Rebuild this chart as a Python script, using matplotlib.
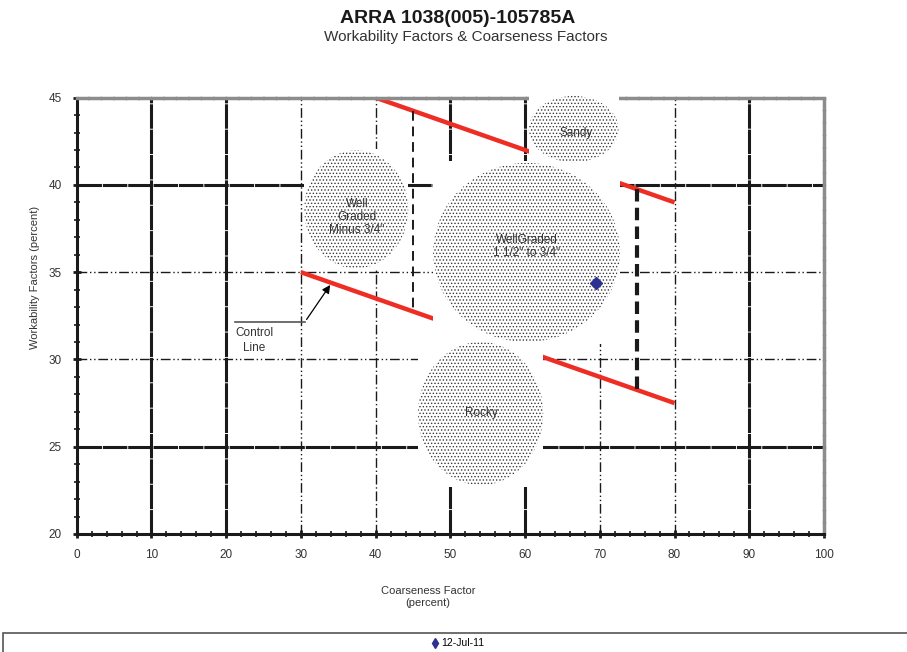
import matplotlib
matplotlib.use("Agg")
import matplotlib.pyplot as plt
from matplotlib.patches import Ellipse, Rectangle
from matplotlib.lines import Line2D

plt.rcParams['font.family'] = ['Liberation Sans', 'DejaVu Sans']
plt.rcParams['hatch.linewidth'] = 0.6

# --- data ---
zone_names = ['Sandy', 'Well\nGraded\nMinus 3/4"', 'WellGraded\n1 1/2" to 3/4"', 'Rocky']
zone_cx = [66.5, 37.4, 60.2, 54.05]
zone_cy = [43.2, 38.6, 36.13, 26.9]
zone_rx = [6.0, 6.96, 12.5, 8.37]
zone_ry = [1.9, 3.38, 5.13, 4.1]
zone_label_x = [66.8, 37.5, 60.2, 54.2]
zone_label_y = [43.0, 38.16, 36.47, 26.96]

# control lines (x, y end points)
upper_ctrl_x = [40, 80]
upper_ctrl_y = [45, 39]
lower_ctrl_x = [30, 80]
lower_ctrl_y = [35, 27.5]

# vertical dashed limits between control lines
limit_x = [45, 75]
limit_top = [44.25, 39.75]
limit_bottom = [32.75, 28.25]

sample_dates = ['12-Jul-11']
sample_cf = [69.5]
sample_wf = [34.4]

vgrid_x = [10, 20, 30, 40, 50, 60, 70, 80, 90]
vgrid_kind = ['heavy', 'heavy', 'dd', 'd', 'heavy', 'heavy', 'dd', 'dd', 'heavy']
hgrid_y = [25, 30, 35, 40]
hgrid_kind = ['heavy', 'dd', 'dd', 'heavy']

grid_styles = {
    'heavy': dict(color='#1a1a1a', lw=2.2, ls=(0, (8, 0.3))),
    'dd': dict(color='#1a1a1a', lw=1.0, ls=(0, (7, 2, 1, 2, 1, 2))),
    'd': dict(color='#1a1a1a', lw=1.0, ls=(0, (7, 2, 1, 2))),
}

fig = plt.figure(figsize=(9.07, 6.52), dpi=100)
ax = fig.add_axes([0.0846, 0.181, 0.8239, 0.6692])
ax.set_xlim(0, 100)
ax.set_ylim(20, 45)

# grid
for x, k in zip(vgrid_x, vgrid_kind):
    ax.axvline(x, zorder=1, **grid_styles[k])
for y, k in zip(hgrid_y, hgrid_kind):
    ax.axhline(y, zorder=1, **grid_styles[k])

# control lines and limits
red = '#EE2E24'
ax.plot(upper_ctrl_x, upper_ctrl_y, color=red, lw=3.2, zorder=1.6, solid_capstyle='butt')
ax.plot(lower_ctrl_x, lower_ctrl_y, color=red, lw=3.2, zorder=1.6, solid_capstyle='butt')
ax.plot([limit_x[0]] * 2, [limit_top[0], limit_bottom[0]], color='#1a1a1a', lw=1.4,
        ls=(0, (5, 3)), zorder=1.7)
ax.plot([limit_x[1]] * 2, [limit_top[1], limit_bottom[1]], color='#1a1a1a', lw=3.0,
        ls=(0, (3, 1.5)), zorder=1.7)

# zones: white box behind a stippled ellipse
pad = 0.1
for name, cx, cy, rx, ry, lx, ly in zip(zone_names, zone_cx, zone_cy, zone_rx, zone_ry,
                                        zone_label_x, zone_label_y):
    ax.add_patch(Rectangle((cx - rx, cy - ry - pad), 2 * rx, 2 * (ry + pad),
                           facecolor='white', edgecolor='none', zorder=3, clip_on=False))
    ax.add_patch(Ellipse((cx, cy), 2 * rx, 2 * ry, facecolor='white', edgecolor='#3a3a3a',
                         lw=0, hatch='.....', zorder=3.1, clip_on=False))
    ax.text(lx, ly, name, ha='center', va='center', fontsize=8.5, color='#333333',
            zorder=4, linespacing=1.15)

# "Control Line" callout
ax.plot([21.2, 30.55], [32.16, 32.16], color='#555555', lw=1.2, zorder=4)
ax.annotate('', xy=(34.13, 34.40), xytext=(30.55, 32.16),
            arrowprops=dict(arrowstyle='-|>', color='black', lw=0.9, mutation_scale=12),
            zorder=4)
ax.text(23.8, 31.1, 'Control\nLine', ha='center', va='center', fontsize=8.5,
        color='#333333', linespacing=1.3, zorder=4)

# sample point
ax.plot(sample_cf, sample_wf, ls='none', marker='D', ms=6.5, color='#2E3192', zorder=5)

# spines
for s in ['left', 'bottom']:
    ax.spines[s].set_linewidth(2.2)
    ax.spines[s].set_color('#1a1a1a')
for s in ['top', 'right']:
    ax.spines[s].set_linewidth(2.5)
    ax.spines[s].set_color('#8c8c8c')
    ax.spines[s].set_linestyle((0, (3, 0.6)))

# ticks
ax.set_xticks(range(0, 101, 10))
ax.set_xticks(range(0, 101, 2), minor=True)
ax.set_yticks(range(20, 46, 5))
ax.set_yticks(range(20, 46, 1), minor=True)
ax.tick_params(which='major', direction='inout', length=6, width=2, color='#1a1a1a',
               labelsize=8.5, labelcolor='#333333')
ax.tick_params(which='minor', direction='inout', length=5, width=1.2, color='#1a1a1a')
ax.tick_params(axis='y', which='major', pad=8)
ax.tick_params(axis='x', which='major', pad=8)

ax.set_xlabel('Coarseness Factor\n(percent)', fontsize=8, color='#333333', linespacing=1.3)
ax.xaxis.set_label_coords(0.47, -0.119)
ax.set_ylabel('Workability Factors (percent)', fontsize=8, color='#333333')
ax.yaxis.set_label_coords(-0.049, 0.587)

fig.text(0.505, 0.972, 'ARRA 1038(005)-105785A', ha='center', va='center',
         fontsize=14, fontweight='bold', color='#1a1a1a')
fig.text(0.513, 0.944, 'Workability Factors & Coarseness Factors', ha='center',
         va='center', fontsize=11, color='#333333')

# legend strip at the bottom
fig.add_artist(Rectangle((3 / 907, -0.01), 1.0, 0.0391, transform=fig.transFigure,
                         fill=False, edgecolor='#555555', lw=1.2))
handle = Line2D([], [], ls='none', marker='d', ms=5, color='#2E3192')
fig.legend([handle], sample_dates, loc='center', bbox_to_anchor=(0.505, 0.0135),
           frameon=False, fontsize=7.5, handletextpad=0.2, handlelength=0.8,
           borderpad=0)

fig.savefig('out.png', dpi=100)
